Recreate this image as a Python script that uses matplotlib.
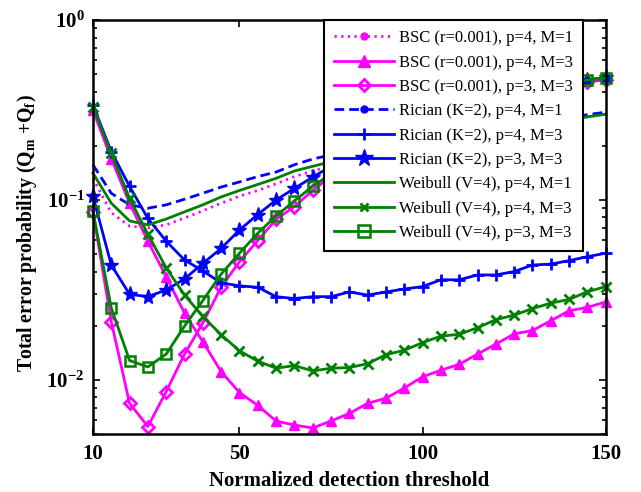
import matplotlib
matplotlib.use('Agg')
import matplotlib.pyplot as plt
from matplotlib.lines import Line2D

# ============================================================
# DATA
# ============================================================

threshold = list(range(10, 155, 5))

bsc_p4_m1 = [0.132, 0.085, 0.0715, 0.070, 0.0727, 0.0794, 0.087, 0.096, 0.105, 0.113,
             0.123, 0.135, 0.145, 0.155, 0.165, 0.174, 0.183, 0.192, 0.200, 0.210,
             0.220, 0.230, 0.240, 0.250, 0.260, 0.270, 0.280, 0.290, 0.300]
bsc_p4_m3 = [0.316, 0.170, 0.096, 0.059, 0.0375, 0.0235, 0.0163, 0.0111, 0.0085, 0.0072,
             0.0059, 0.0056, 0.0054, 0.0059, 0.0065, 0.0074, 0.0079, 0.0090, 0.0104, 0.0113,
             0.0122, 0.0139, 0.0158, 0.0180, 0.0188, 0.0213, 0.0242, 0.0253, 0.0271]
bsc_p3_m3 = [0.086, 0.0211, 0.0074, 0.0055, 0.0086, 0.0139, 0.0207, 0.0328, 0.0454, 0.0595,
             0.078, 0.0919, 0.113, 0.135, 0.158, 0.182, 0.207, 0.233, 0.260, 0.287,
             0.313, 0.338, 0.362, 0.385, 0.405, 0.424, 0.440, 0.455, 0.465]

rician_p4_m1 = [0.157, 0.109, 0.094, 0.090, 0.094, 0.101, 0.109, 0.118, 0.126, 0.135,
                0.143, 0.157, 0.169, 0.178, 0.187, 0.196, 0.205, 0.214, 0.222, 0.230,
                0.238, 0.246, 0.254, 0.262, 0.270, 0.279, 0.288, 0.298, 0.308]
rician_p4_m3 = [0.337, 0.186, 0.119, 0.079, 0.059, 0.0464, 0.0403, 0.0346, 0.0333, 0.0327,
                0.029, 0.0283, 0.029, 0.029, 0.0308, 0.0296, 0.0308, 0.032, 0.033, 0.036,
                0.036, 0.0383, 0.0383, 0.040, 0.0435, 0.044, 0.046, 0.0484, 0.0506]
rician_p3_m3 = [0.105, 0.0435, 0.0299, 0.029, 0.0316, 0.0364, 0.0444, 0.0538, 0.0681, 0.083,
                0.100, 0.116, 0.134, 0.154, 0.176, 0.199, 0.222, 0.246, 0.270, 0.295,
                0.320, 0.344, 0.367, 0.389, 0.410, 0.430, 0.448, 0.466, 0.480]

weibull_p4_m1 = [0.141, 0.096, 0.0765, 0.0727, 0.0784, 0.0859, 0.094, 0.104, 0.113, 0.122,
                 0.132, 0.145, 0.154, 0.163, 0.172, 0.181, 0.190, 0.199, 0.208, 0.217,
                 0.226, 0.235, 0.244, 0.253, 0.262, 0.271, 0.280, 0.290, 0.300]
weibull_p4_m3 = [0.330, 0.182, 0.102, 0.0646, 0.0419, 0.0296, 0.0225, 0.0178, 0.0145, 0.0127,
                 0.0116, 0.0120, 0.0112, 0.0116, 0.0117, 0.0123, 0.0138, 0.0146, 0.0161, 0.0175,
                 0.0179, 0.0195, 0.0216, 0.0229, 0.0249, 0.0267, 0.0280, 0.0309, 0.0330]
weibull_p3_m3 = [0.087, 0.0251, 0.0128, 0.0118, 0.0139, 0.0199, 0.0276, 0.0387, 0.0506, 0.0654,
                 0.0814, 0.099, 0.119, 0.140, 0.163, 0.187, 0.212, 0.238, 0.265, 0.292,
                 0.318, 0.343, 0.367, 0.390, 0.410, 0.430, 0.448, 0.466, 0.476]

labels = [
    "BSC (r=0.001), p=4, M=1",
    "BSC (r=0.001), p=4, M=3",
    "BSC (r=0.001), p=3, M=3",
    "Rician (K=2), p=4, M=1",
    "Rician (K=2), p=4, M=3",
    "Rician (K=2), p=3, M=3",
    "Weibull (V=4), p=4, M=1",
    "Weibull (V=4), p=4, M=3",
    "Weibull (V=4), p=3, M=3",
]

x_ticks = [10, 50, 100, 150]

MAG = "#FF00FF"
BLU = "#0000FF"
GRN = "#008000"

# ============================================================
# STYLE
# ============================================================

plt.rcParams['font.family'] = ['Liberation Serif', 'DejaVu Serif']
plt.rcParams['mathtext.fontset'] = 'custom'
plt.rcParams['mathtext.rm'] = 'Liberation Serif'
plt.rcParams['mathtext.bf'] = 'Liberation Serif:bold'
plt.rcParams['mathtext.it'] = 'Liberation Serif:italic'
plt.rcParams['mathtext.default'] = 'bf'

styles = [
    dict(color=MAG, ls=(0, (0.8, 1.6)), marker=None),
    dict(color=MAG, ls='-', marker='^', ms=7.5, mfc=MAG, mec=MAG),
    dict(color=MAG, ls='-', marker='D', ms=6.3, mfc='none', mec=MAG, mew=2),
    dict(color=BLU, ls=(0, (3.5, 1.8)), marker=None),
    dict(color=BLU, ls='-', marker='+', ms=8, mec=BLU, mew=2),
    dict(color=BLU, ls='-', marker='*', ms=11, mfc=BLU, mec=BLU),
    dict(color=GRN, ls='-', marker=None),
    dict(color=GRN, ls='-', marker='x', ms=7, mec=GRN, mew=2),
    dict(color=GRN, ls='-', marker='s', ms=7.5, mfc='none', mec=GRN, mew=1.8),
]

legend_markers = [
    dict(marker='o', ms=5, mfc=MAG, mec=MAG),
    dict(marker='^', ms=9, mfc=MAG, mec=MAG),
    dict(marker='D', ms=6, mfc='none', mec=MAG, mew=2),
    dict(marker='o', ms=5, mfc=BLU, mec=BLU),
    dict(marker='+', ms=9, mec=BLU, mew=2),
    dict(marker='*', ms=13, mfc=BLU, mec=BLU),
    dict(marker=None),
    dict(marker='x', ms=6, mec=GRN, mew=2),
    dict(marker='s', ms=8, mfc='none', mec=GRN, mew=1.8),
]

series = [bsc_p4_m1, bsc_p4_m3, bsc_p3_m3,
          rician_p4_m1, rician_p4_m3, rician_p3_m3,
          weibull_p4_m1, weibull_p4_m3, weibull_p3_m3]

# ============================================================
# PLOT
# ============================================================

fig = plt.figure(figsize=(6.41, 4.92), dpi=100)
ax = fig.add_axes([0.145, 0.118, 0.800, 0.841])

for y, st in zip(series, styles):
    st = dict(st)
    color = st.pop('color')
    ls = st.pop('ls')
    ax.plot(threshold, y, color=color, linestyle=ls, linewidth=2.0,
            clip_on=False, **st)

ax.set_yscale('log')
ax.set_xlim(10, 150)
ax.set_ylim(0.005, 1)
ax.set_xticks(x_ticks)
ax.set_xticklabels([str(t) for t in x_ticks], fontsize=15, fontweight='bold')
ax.set_yticks([0.01, 0.1, 1])
ax.set_yticklabels([r'$10^{-2}$', r'$10^{-1}$', r'$10^{0}$'], fontsize=15)
ax.tick_params(which='both', direction='in', top=True, right=True, width=1.2)
ax.tick_params(which='major', length=5)
ax.tick_params(axis='x', which='major', pad=7)
ax.tick_params(axis='y', which='major', pad=6)
ax.tick_params(which='minor', length=3)
for spine in ax.spines.values():
    spine.set_linewidth(1.8)

ax.set_xlabel("Normalized detection threshold", fontsize=15, fontweight='bold', labelpad=5)
ax.set_ylabel(r"Total error probability (Q$_{m}$ +Q$_{f}$)", fontsize=14.2,
              fontweight='bold')
ax.yaxis.set_label_coords(-0.105, 0.486)

handles = []
for st, lm, lab in zip(styles, legend_markers, labels):
    handles.append(Line2D([0], [0], color=st['color'], linestyle=st['ls'],
                          linewidth=2.0, label=lab, **lm))

leg = ax.legend(handles=handles, loc='upper right', bbox_to_anchor=(0.955, 1.0),
                borderaxespad=0, fontsize=12, fancybox=False, framealpha=1,
                edgecolor='black', handlelength=3.6, labelspacing=0.5,
                borderpad=0.6, handletextpad=0.3)
leg.get_frame().set_linewidth(1.5)

fig.savefig("out.png", dpi=100, facecolor="white")
plt.close(fig)
